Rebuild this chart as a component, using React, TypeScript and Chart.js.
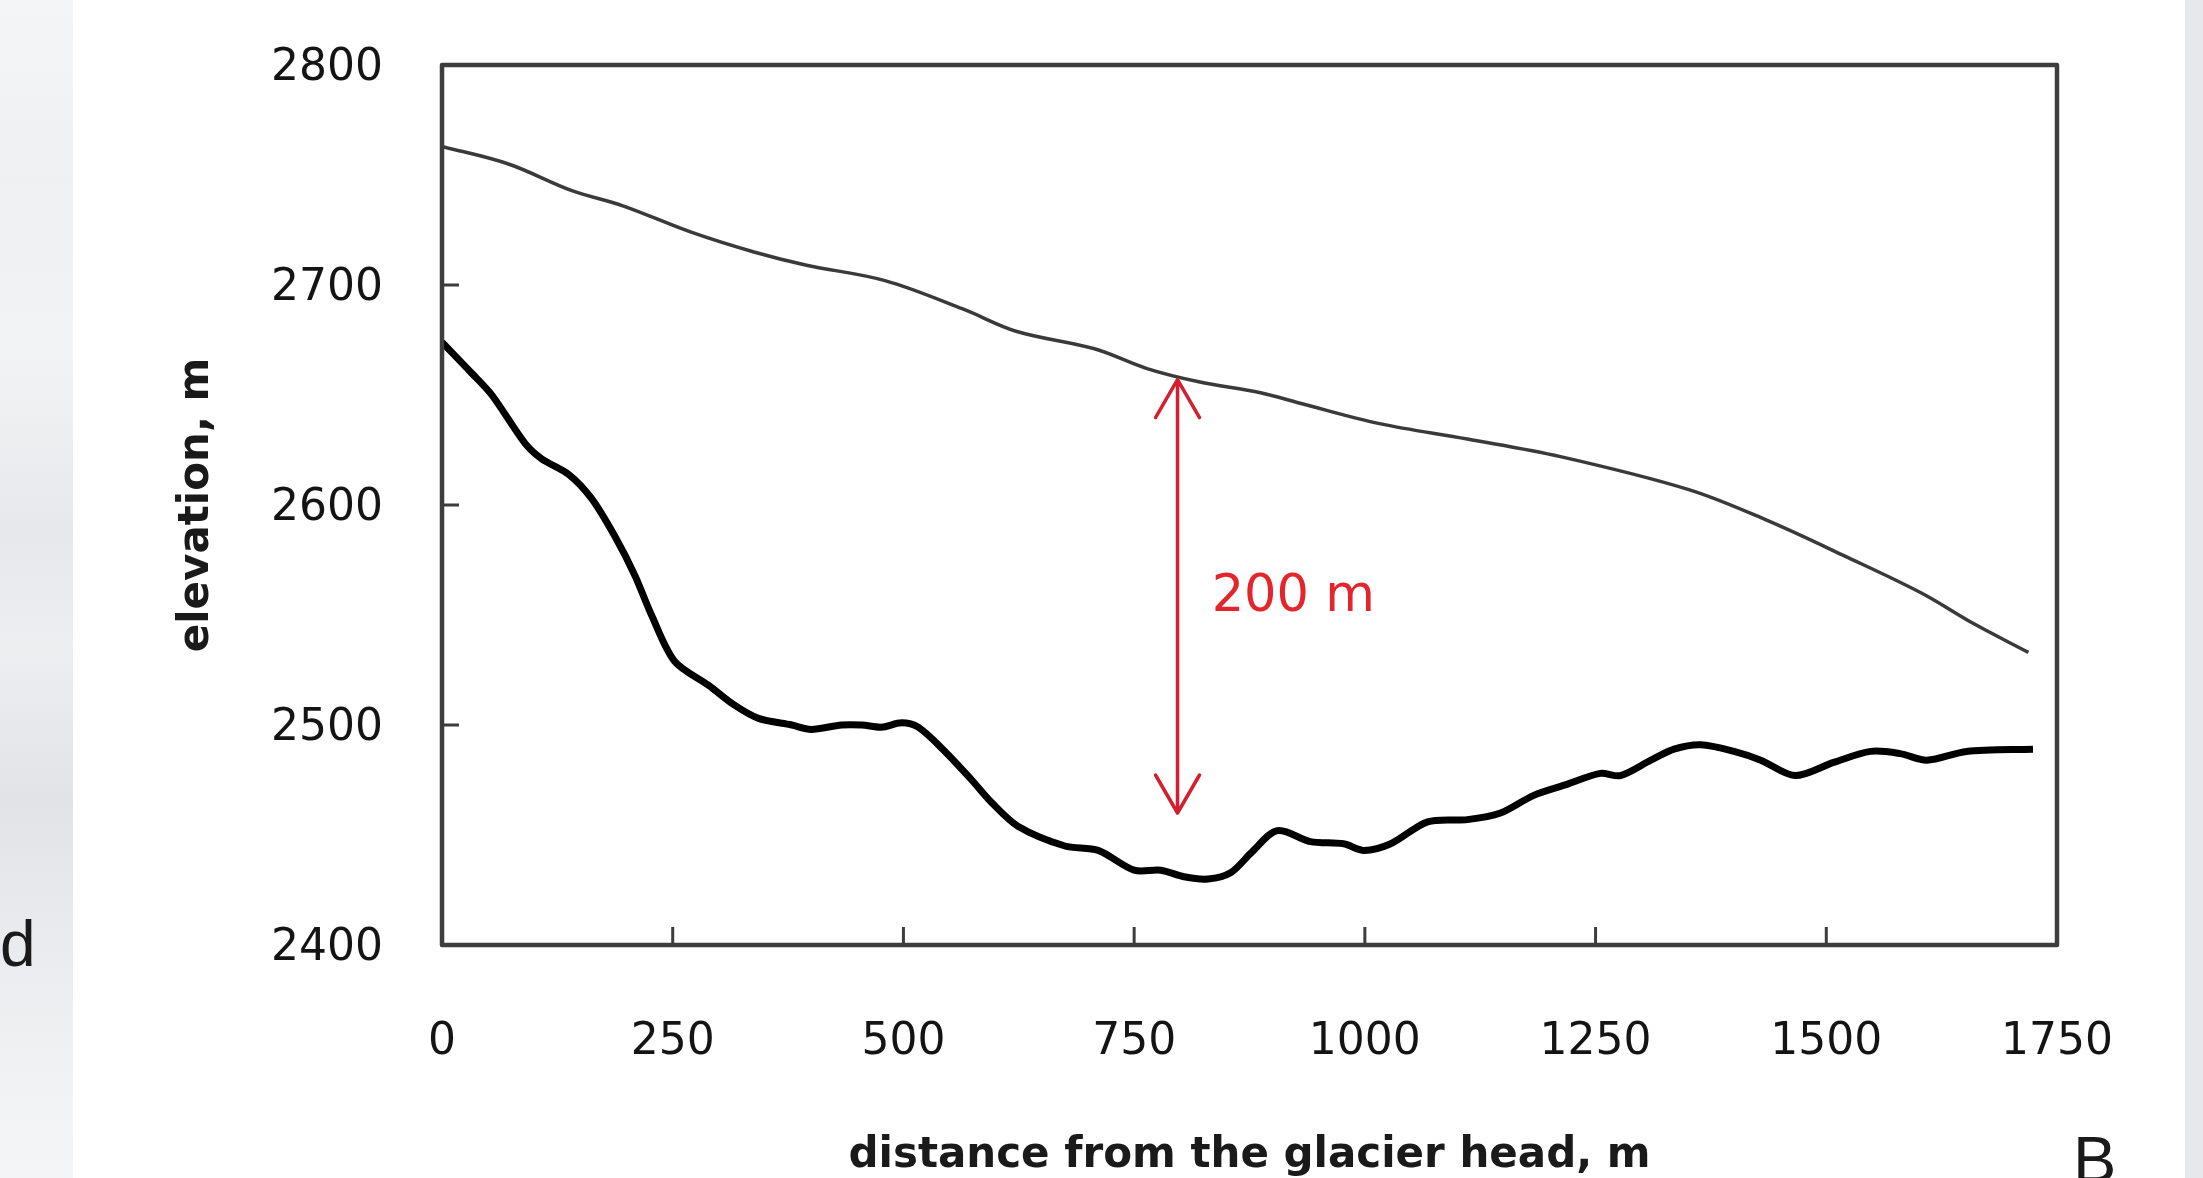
import React, { useEffect, useRef } from "react";
import { Chart, registerables } from "chart.js";

Chart.register(...registerables);

// ---- data ----
const xTicks = [0, 250, 500, 750, 1000, 1250, 1500, 1750];
const yTicks = [2400, 2500, 2600, 2700, 2800];

// glacier surface (thin line)
const surfaceDistance = [0, 72, 140, 196, 270, 338, 395, 480, 565, 622, 707, 764, 820, 887, 932, 1016, 1111, 1212, 1351, 1436, 1519, 1603, 1660, 1719];
const surfaceElevation = [2763, 2755, 2743, 2736, 2724, 2715, 2709, 2702, 2689, 2679, 2671, 2662, 2656, 2651, 2646, 2637, 2630, 2622, 2607, 2593, 2577, 2560, 2546, 2533];

// glacier bed (thick line)
const bedDistance = [0, 32, 54, 90, 108, 137, 162, 187, 209, 227, 252, 289, 317, 343, 379, 400, 433, 455, 476, 498, 516, 545, 574, 595, 624, 675, 711, 750, 779, 804, 830, 855, 877, 905, 941, 977, 999, 1028, 1068, 1111, 1147, 1183, 1219, 1255, 1277, 1310, 1335, 1364, 1400, 1429, 1466, 1508, 1548, 1580, 1609, 1652, 1724];
const bedElevation = [2674, 2660, 2650, 2628, 2621, 2614, 2603, 2586, 2568, 2550, 2529, 2518, 2509, 2503, 2500, 2498, 2500, 2500, 2499, 2501, 2499, 2488, 2475, 2465, 2454, 2445, 2443, 2434, 2434, 2431, 2430, 2433, 2442, 2452, 2447, 2446, 2443, 2446, 2456, 2457, 2460, 2468, 2473, 2478, 2477, 2484, 2489, 2491, 2488, 2484, 2477, 2483, 2488, 2487, 2484, 2488, 2489];

// thickness annotation
const arrowDistance = 797;
const arrowTop = 2657;
const arrowBottom = 2460;
const thicknessLabel = "200 m";
const labelDistance = 834;
const labelElevation = 2558;

const xTitle = "distance from the glacier head, m";
const yTitle = "elevation, m";

const toPoints = (xs: number[], ys: number[]) => xs.map((x, i) => ({ x, y: ys[i] }));

const framePlugin = {
  id: "frameAndAnnotation",
  afterDatasetsDraw(chart: any) {
    const { ctx, chartArea: a, scales } = chart;
    const xs = scales.x;
    const ys = scales.y;
    ctx.save();
    // inward tick marks
    ctx.strokeStyle = "#3d3d3d";
    ctx.lineWidth = 3;
    ctx.beginPath();
    yTicks.forEach((v) => {
      if (v > ys.min && v < ys.max) {
        const py = ys.getPixelForValue(v);
        ctx.moveTo(a.left, py);
        ctx.lineTo(a.left + 17, py);
      }
    });
    xTicks.forEach((v) => {
      if (v > xs.min && v < xs.max) {
        const px = xs.getPixelForValue(v);
        ctx.moveTo(px, a.bottom);
        ctx.lineTo(px, a.bottom - 18);
      }
    });
    ctx.stroke();
    // frame
    ctx.lineWidth = 4.5;
    ctx.lineJoin = "round";
    ctx.strokeRect(a.left, a.top, a.right - a.left, a.bottom - a.top);

    // red double arrow
    const ax = xs.getPixelForValue(arrowDistance);
    const at = ys.getPixelForValue(arrowTop);
    const ab = ys.getPixelForValue(arrowBottom);
    ctx.strokeStyle = "#d2202e";
    ctx.lineWidth = 3.5;
    ctx.lineCap = "round";
    ctx.beginPath();
    ctx.moveTo(ax, at);
    ctx.lineTo(ax, ab);
    ctx.moveTo(ax - 22, at + 38);
    ctx.lineTo(ax, at);
    ctx.lineTo(ax + 22, at + 38);
    ctx.moveTo(ax - 22, ab - 38);
    ctx.lineTo(ax, ab);
    ctx.lineTo(ax + 22, ab - 38);
    ctx.stroke();

    // label
    ctx.fillStyle = "#e3262c";
    ctx.font = '51px "DejaVu Sans"';
    ctx.textAlign = "left";
    ctx.textBaseline = "middle";
    ctx.fillText(thicknessLabel, xs.getPixelForValue(labelDistance), ys.getPixelForValue(labelElevation));
    ctx.restore();
  },
};

export default function App() {
  const canvasRef = useRef<HTMLCanvasElement | null>(null);

  useEffect(() => {
    document.body.style.margin = "0";
    const canvas = canvasRef.current;
    if (!canvas) return;
    const chart = new Chart(canvas, {
      type: "line",
      data: {
        datasets: [
          {
            label: "surface",
            data: toPoints(surfaceDistance, surfaceElevation),
            borderColor: "#3a3a3a",
            borderWidth: 3.5,
            pointRadius: 0,
            tension: 0.35,
            fill: false,
          },
          {
            label: "bed",
            data: toPoints(bedDistance, bedElevation),
            borderColor: "#000000",
            borderWidth: 7,
            pointRadius: 0,
            tension: 0.3,
            fill: false,
          },
        ],
      },
      options: {
        animation: false,
        responsive: false,
        devicePixelRatio: 1,
        layout: { padding: { left: 0, top: 65, right: 146, bottom: 0 } },
        plugins: {
          legend: { display: false },
          tooltip: { enabled: false },
        },
        scales: {
          x: {
            type: "linear",
            min: 0,
            max: 1750,
            afterFit: (s: any) => {
              s.height = 233;
              s.paddingLeft = 0;
              s.paddingRight = 0;
            },
            ticks: {
              stepSize: 250,
              padding: 71,
              color: "#141414",
              font: { family: '"DejaVu Sans"', size: 44 },
              maxRotation: 0,
              autoSkip: false,
              callback: (v: any) => String(v),
            },
            grid: { display: false, drawTicks: false, tickLength: 0 },
            border: { display: false },
            title: {
              display: true,
              text: xTitle,
              color: "#1a1a1a",
              font: { family: '"DejaVu Sans"', size: 42, weight: "bold" },
              padding: { top: 0, bottom: -3 },
            },
          },
          y: {
            type: "linear",
            min: 2400,
            max: 2800,
            afterFit: (s: any) => {
              s.width = 442;
              s.paddingTop = 0;
              s.paddingBottom = 0;
            },
            ticks: {
              stepSize: 100,
              padding: 59,
              labelOffset: 4,
              color: "#141414",
              font: { family: '"DejaVu Sans"', size: 44 },
              autoSkip: false,
              callback: (v: any) => String(v),
            },
            grid: { display: false, drawTicks: false, tickLength: 0 },
            border: { display: false },
            title: {
              display: true,
              text: yTitle,
              color: "#1a1a1a",
              font: { family: '"DejaVu Sans"', size: 42, weight: "bold" },
              padding: { top: 172, bottom: 0 },
            },
          },
        },
      },
      plugins: [framePlugin],
    });
    return () => chart.destroy();
  }, []);

  return (
    <div
      style={{
        position: "fixed",
        left: 0,
        top: 0,
        width: 2203,
        height: 1178,
        overflow: "hidden",
        background: "#ffffff",
      }}
    >
      <div
        style={{
          position: "absolute",
          left: 0,
          top: 0,
          width: 73,
          height: 1178,
          background:
            "linear-gradient(180deg, #f4f5f6 0%, #eef0f1 15%, #f2f3f4 30%, #e6e8eb 45%, #eceef0 55%, #e1e3e7 68%, #e9ebee 80%, #f1f2f3 92%, #f4f5f6 100%)",
        }}
      />
      <div
        style={{
          position: "absolute",
          left: 2185,
          top: 0,
          width: 18,
          height: 1178,
          background: "#e7e8eb",
        }}
      />
      <canvas
        ref={canvasRef}
        width={2203}
        height={1178}
        style={{ position: "absolute", left: 0, top: 0, width: 2203, height: 1178 }}
      />
      <span
        style={{
          position: "absolute",
          left: 0,
          top: 904,
          fontFamily: '"Liberation Sans", Arial, sans-serif',
          fontSize: 64,
          lineHeight: "80px",
          color: "#1a1a1a",
        }}
      >
        d
      </span>
      <span
        style={{
          position: "absolute",
          left: 2073,
          top: 1120,
          fontFamily: '"Liberation Sans", Arial, sans-serif',
          fontSize: 65,
          lineHeight: "80px",
          color: "#1a1a1a",
        }}
      >
        B
      </span>
    </div>
  );
}
